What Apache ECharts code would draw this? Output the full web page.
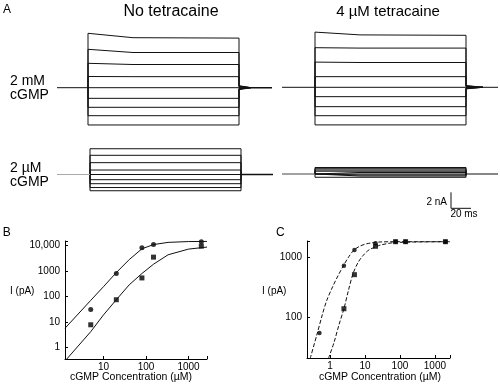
<!DOCTYPE html>
<html><head><meta charset="utf-8">
<script src="https://cdn.jsdelivr.net/npm/echarts@6/dist/echarts.min.js"></script>
<style>html,body{margin:0;padding:0;background:#fff}#c{width:500px;height:386px}</style>
</head><body><div id="c"></div>
<script>
// ---------- Panel A: current traces (nA) ----------
const pulseTimes = [0, 45, 151];                 // ms: step onset, early, step end
// each trace: current at the three pulse times
const traceNoTetra2mM = [[6.8,6.25,6.2],[4.8,4.4,4.4],[3.05,2.9,2.9],[1.4,1.38,1.38],[0,0,0],
  [-1.33,-1.33,-1.33],[-2.45,-2.45,-2.45],[-3.5,-3.5,-3.5],[-4.66,-4.66,-4.66]];
const tailNoTetra2mM = [0.25,0.2,0.15,0.07,0,-0.07,-0.12,-0.18,-0.25];
const traceTetra2mM = [[6.9,6.55,6.5],[4.95,4.9,4.9],[3.15,3.1,3.1],[1.33,1.33,1.33],[0,0,0],
  [-1.17,-1.17,-1.17],[-2.42,-2.42,-2.42],[-3.55,-3.55,-3.55],[-4.7,-4.7,-4.7]];
const tailTetra2mM = [0.22,0.18,0.12,0.06,0,-0.06,-0.1,-0.15,-0.2];
const traceNoTetra2uM = [[3.22,3.22,3.22],[2.4,2.4,2.4],[1.48,1.48,1.48],[0.56,0.56,0.56],[0,0,0],
  [-0.65,-0.65,-0.65],[-1.15,-1.15,-1.15],[-1.63,-1.63,-1.63],[-2.03,-2.03,-2.03]];
const traceTetra2uM = [[0.81,0.81,0.81],[0.66,0.66,0.66],[0.5,0.5,0.5],[0.35,0.35,0.35],[0.19,0.19,0.19],
  [0,0,0],[-0.125,-0.125,-0.125],[-0.25,-0.25,-0.25],[-0.41,-0.41,-0.41]];
const scaleBarNA = 2, scaleBarMs = 20;

// ---------- Panel B: dose-response (pA vs µM) ----------
const bConc   = [5, 20, 80, 150, 2000];
const bCircle = [31, 780, 7900, 10700, 13500];
const bSquare = [7.8, 74, 525, 3400, 9100];
const bFitConc   = [1.24, 5, 10, 20, 40, 80, 150, 330, 1000, 2720];
const bFitCircle = [5.7, 70, 240, 850, 2700, 7200, 10500, 12800, 13800, 14000];
const bFitSquare = [0.3, 4.2, 19, 74, 280, 780, 1800, 4200, 7000, 8400];

// ---------- Panel C ----------
const cConcCircle = [0.5, 2.5, 5, 20, 75, 145, 2000];
const cCircle     = [55, 730, 1350, 1750, 1850, 1850, 1850];
const cConcSquare = [2.5, 5, 20, 75, 145, 2000];
const cSquare     = [140, 520, 1550, 1850, 1850, 1850];
const cFitCircleConc = [0.27, 0.42, 0.6, 0.8, 1.2, 1.7, 2.5, 3.5, 4.9, 7, 10, 14, 27, 100, 2700];
const cFitCircle     = [20.5, 51, 110, 190, 330, 500, 760, 1050, 1350, 1550, 1680, 1750, 1830, 1850, 1850];
const cFitSquareConc = [0.9, 1.3, 1.8, 2.5, 3.4, 4.6, 6.5, 9, 13, 20.6, 27, 72, 2700];
const cFitSquare     = [20.5, 38, 75, 140, 290, 550, 850, 1100, 1350, 1520, 1620, 1790, 1850];

const FONT = 'Liberation Sans, Arial, Helvetica, sans-serif';
const chart = echarts.init(document.getElementById('c'));

const series = [];
function traces(gi, tr, tails, tailEnd, xmin, xmax, preColor, postWidth) {
  tr.forEach((t, i) => {
    const d = [[0,0]];
    pulseTimes.forEach((pt, k) => d.push([pt, t[k]]));
    d.push([pulseTimes[2], tails ? tails[i] : 0]);
    d.push([tailEnd, 0]);
    series.push({type:'line', xAxisIndex:gi, yAxisIndex:gi, data:d, showSymbol:false, silent:true,
      lineStyle:{color:'#111', width:1}, animation:false});
  });
  series.push({type:'line', xAxisIndex:gi, yAxisIndex:gi, data:[[xmin,0],[0,0]], showSymbol:false,
    lineStyle:{color:preColor, width:1}, animation:false});
  series.push({type:'line', xAxisIndex:gi, yAxisIndex:gi, data:[[tailEnd,0],[xmax,0]], showSymbol:false,
    lineStyle:{color:'#111', width:postWidth}, animation:false});
}
traces(0, traceNoTetra2mM, tailNoTetra2mM, 163, -31, 184, '#111', 1.6);
traces(1, traceTetra2mM, tailTetra2mM, 168, -33, 183, '#111', 1);
traces(2, traceNoTetra2uM, null, 151, -33, 183, '#aaa', 1.3);
traces(3, traceTetra2uM, null, 151, -33, 183, '#444', 1);
// scale bar in grid 3 coordinates
series.push({type:'line', xAxisIndex:3, yAxisIndex:3, showSymbol:false, animation:false,
  data:[[136,-4.29+scaleBarNA],[136,-4.29],[136+scaleBarMs,-4.29]], lineStyle:{color:'#111', width:1}});

function zip(a,b){return a.map((v,i)=>[v,b[i]]);}
series.push(
  {type:'line', xAxisIndex:4, yAxisIndex:4, data:zip(bFitConc,bFitCircle), showSymbol:false, lineStyle:{color:'#111',width:1}, animation:false},
  {type:'line', xAxisIndex:4, yAxisIndex:4, data:zip(bFitConc,bFitSquare), showSymbol:false, lineStyle:{color:'#111',width:1}, animation:false},
  {type:'scatter', xAxisIndex:4, yAxisIndex:4, data:zip(bConc,bCircle), symbol:'circle', symbolSize:5, itemStyle:{color:'#000'}, animation:false},
  {type:'scatter', xAxisIndex:4, yAxisIndex:4, data:zip(bConc,bSquare), symbol:'rect', symbolSize:5, itemStyle:{color:'#000'}, animation:false},
  {type:'line', xAxisIndex:5, yAxisIndex:5, data:zip(cFitCircleConc,cFitCircle), showSymbol:false, smooth:0.3, lineStyle:{color:'#111',width:1,type:[4,2]}, animation:false},
  {type:'line', xAxisIndex:5, yAxisIndex:5, data:zip(cFitSquareConc,cFitSquare), showSymbol:false, smooth:0.3, lineStyle:{color:'#111',width:1,type:[4,2]}, animation:false},
  {type:'scatter', xAxisIndex:5, yAxisIndex:5, data:zip(cConcCircle,cCircle), symbol:'circle', symbolSize:4.5, itemStyle:{color:'#000'}, animation:false},
  {type:'scatter', xAxisIndex:5, yAxisIndex:5, data:zip(cConcSquare,cSquare), symbol:'rect', symbolSize:5, itemStyle:{color:'#000'}, animation:false}
);

function fmtLog(v){
  const l = Math.log10(v);
  if (Math.abs(l-Math.round(l))>1e-6) return '';
  const r = Math.round(v);
  return r >= 10000 ? '10,000' : String(r);
}
function logAxis(gi, min, max, margin){
  return {type:'log', logBase:10, gridIndex:gi, min, max,
    axisLine:{show:true, lineStyle:{color:'#000', width:1}},
    axisTick:{show:true, inside:true, length:3, lineStyle:{color:'#000'}},
    axisLabel:{formatter:fmtLog, fontSize:10, color:'#000', margin, fontFamily:FONT},
    splitLine:{show:false}};
}

const option = {
  animation:false,
  grid:[
    {left:57, top:23.7, width:215, height:112},
    {left:282, top:23.3, width:216, height:112},
    {left:57, top:142.5, width:216, height:56},
    {left:282, top:142, width:216, height:80},
    {left:65, top:241, width:142, height:118},
    {left:307, top:241, width:143, height:117}
  ],
  xAxis:[
    {type:'value', gridIndex:0, min:-31, max:184, show:false},
    {type:'value', gridIndex:1, min:-33, max:183, show:false},
    {type:'value', gridIndex:2, min:-33, max:183, show:false},
    {type:'value', gridIndex:3, min:-33, max:183, show:false},
    logAxis(4, 1.24, 2720, 3),
    logAxis(5, 0.22, 2700, 3)
  ],
  yAxis:[
    {type:'value', gridIndex:0, min:-6, max:8, show:false},
    {type:'value', gridIndex:1, min:-6, max:8, show:false},
    {type:'value', gridIndex:2, min:-3, max:4, show:false},
    {type:'value', gridIndex:3, min:-6, max:4, show:false},
    logAxis(4, 0.36, 14500, 5),
    logAxis(5, 21, 1900, 5)
  ],
  series,
  graphic:[
    {type:'text', left:3, top:4, style:{text:'A', font:'12px '+FONT, fill:'#000'}},
    {type:'text', x:171, y:12, style:{text:'No tetracaine', font:'16px '+FONT, fill:'#000', align:'center', verticalAlign:'middle'}},
    {type:'text', x:388, y:12, style:{text:'4 µM tetracaine', font:'15px '+FONT, fill:'#000', align:'center', verticalAlign:'middle'}},
    {type:'text', x:10, y:81.3, style:{text:'2 mM', font:'14px '+FONT, fill:'#000', verticalAlign:'middle'}},
    {type:'text', x:10, y:94.7, style:{text:'cGMP', font:'14px '+FONT, fill:'#000', verticalAlign:'middle'}},
    {type:'text', x:10, y:168, style:{text:'2 µM', font:'14px '+FONT, fill:'#000', verticalAlign:'middle'}},
    {type:'text', x:10, y:182.5, style:{text:'cGMP', font:'14px '+FONT, fill:'#000', verticalAlign:'middle'}},
    {type:'text', x:447, y:202, style:{text:'2 nA', font:'10px '+FONT, fill:'#000', align:'right', verticalAlign:'middle'}},
    {type:'text', x:464, y:214, style:{text:'20 ms', font:'10px '+FONT, fill:'#000', align:'center', verticalAlign:'middle'}},
    {type:'text', x:2.7, y:232.5, style:{text:'B', font:'12px '+FONT, fill:'#000', verticalAlign:'middle'}},
    {type:'text', x:276, y:232.5, style:{text:'C', font:'12px '+FONT, fill:'#000', verticalAlign:'middle'}},
    {type:'text', x:10, y:291, style:{text:'I (pA)', font:'10px '+FONT, fill:'#000', verticalAlign:'middle'}},
    {type:'text', x:262, y:291, style:{text:'I (pA)', font:'10px '+FONT, fill:'#000', verticalAlign:'middle'}},
    {type:'text', x:131, y:377, style:{text:'cGMP Concentration (µM)', font:'10.5px '+FONT, fill:'#000', align:'center', verticalAlign:'middle'}},
    {type:'text', x:380, y:377, style:{text:'cGMP Concentration (µM)', font:'10.5px '+FONT, fill:'#000', align:'center', verticalAlign:'middle'}}
  ]
};
chart.setOption(option);
</script></body></html>
